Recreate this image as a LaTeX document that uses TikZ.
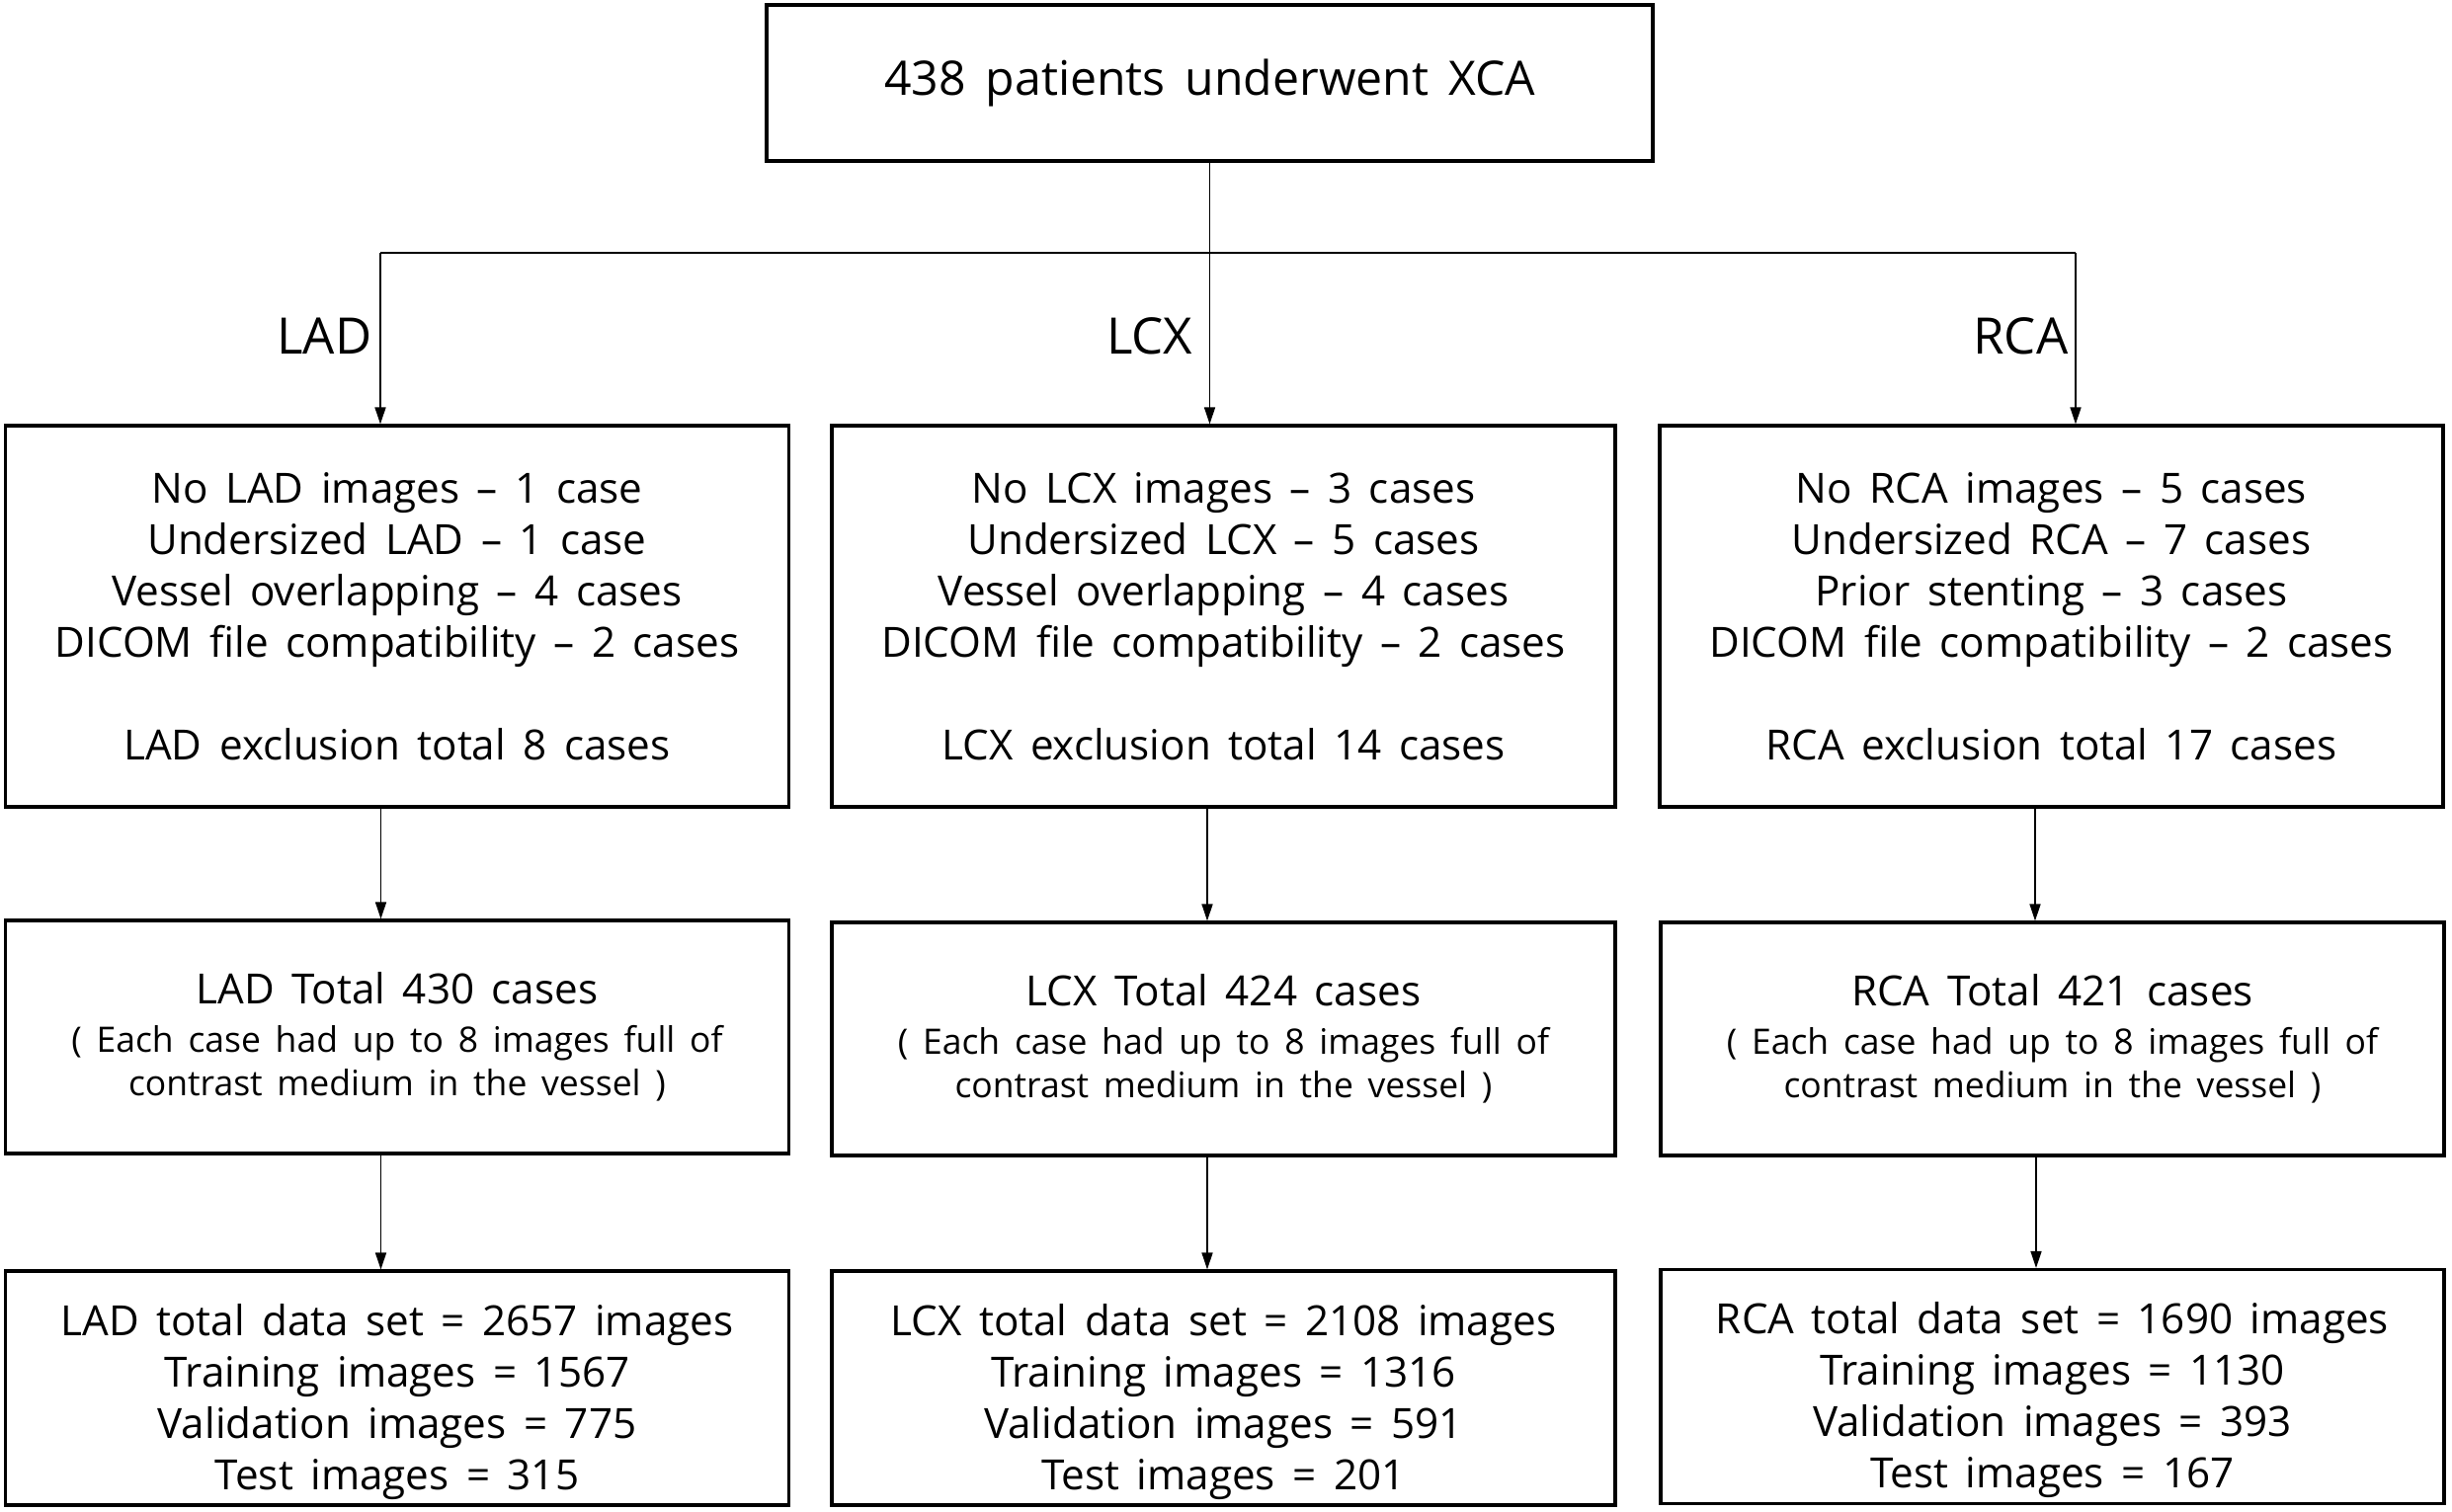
\documentclass[tikz,border=0pt]{standalone}
\usepackage{fontspec}
\setmainfont{Open Sans}[WordSpace=1.6]
\usetikzlibrary{arrows.meta,calc}
\newcommand{\bodyfont}{\fontsize{12}{14.8}\selectfont}
\newcommand{\subfont}{\fontsize{10.1}{12.5}\selectfont}
\newcommand{\bigfont}{\fontsize{13.7}{16}\selectfont}
\newcommand{\labfont}{\fontsize{14.5}{16}\selectfont}
\begin{document}
\begin{tikzpicture}[
  box/.style={draw, line width=0.9pt, minimum width=7.93cm, inner sep=0pt, align=center, font=\bodyfont},
  tall/.style={box, minimum height=3.86cm},
  mid/.style={box, minimum height=2.36cm},
  txt/.style={inner sep=0pt, align=center, font=\bodyfont},
  conn/.style={line width=0.45pt, -{Triangle[length=0.17cm,width=0.11cm]}},
  plain/.style={line width=0.45pt},
  branch/.style={font=\labfont, anchor=east, inner sep=0pt}
]
\useasboundingbox (0,0) rectangle (24.82,-15.31);
% top
\node[draw, line width=0.9pt, minimum width=8.97cm, minimum height=1.58cm, inner sep=0pt, font=\bigfont] (top) at (12.245,-0.84) {438 patients underwent XCA};
% row 1
\node[tall] (lad1) at (4.02,-6.24) {No LAD images – 1 case\\Undersized LAD – 1 case\\Vessel overlapping – 4 cases\\DICOM file compatibility – 2 cases\\[14.8pt]LAD exclusion total 8 cases};
\node[tall] (lcx1) at (12.385,-6.24) {No LCX images – 3 cases\\Undersized LCX – 5 cases\\Vessel overlapping – 4 cases\\DICOM file compatibility – 2 cases\\[14.8pt]LCX exclusion total 14 cases};
\node[tall] (rca1) at (20.765,-6.24) {No RCA images – 5 cases\\Undersized RCA – 7 cases\\Prior stenting – 3 cases\\DICOM file compatibility – 2 cases\\[14.8pt]RCA exclusion total 17 cases};
% row 2
\node[mid] (lad2) at (4.02,-10.50) {LAD Total 430 cases\\[-0.8pt]{\subfont ( Each case had up to 8 images full of}\\[-2.3pt]{\subfont contrast medium in the vessel )}};
\node[mid] (lcx2) at (12.385,-10.52) {LCX Total 424 cases\\[-0.8pt]{\subfont ( Each case had up to 8 images full of}\\[-2.3pt]{\subfont contrast medium in the vessel )}};
\node[mid] (rca2) at (20.775,-10.52) {RCA Total 421 cases\\[-0.8pt]{\subfont ( Each case had up to 8 images full of}\\[-2.3pt]{\subfont contrast medium in the vessel )}};
% row 3
\node[mid, minimum height=2.37cm] (lad3) at (4.02,-14.055) {};
\node[mid, minimum height=2.37cm] (lcx3) at (12.385,-14.055) {};
\node[mid, minimum height=2.37cm] (rca3) at (20.775,-14.04) {};
\node[txt] (lad3t) at ($(lad3.center)+(0,-0.14)$) {LAD total data set = 2657 images\\Training images = 1567\\Validation images = 775\\Test images = 315};
\node[txt] (lcx3t) at ($(lcx3.center)+(0,-0.14)$) {LCX total data set = 2108 images\\Training images = 1316\\Validation images = 591\\Test images = 201};
\node[txt] (rca3t) at ($(rca3.center)+(0,-0.14)$) {RCA total data set = 1690 images\\Training images = 1130\\Validation images = 393\\Test images = 167};
% branching
\coordinate (jL) at (3.85,-2.56);
\coordinate (jR) at (21.01,-2.56);
\draw[plain] (jL) -- (jR);
\draw[conn] (jL) -- (jL |- lad1.north);
\draw[conn] (top.south) -- (top.south |- lcx1.north);
\draw[conn] (jR) -- (jR |- rca1.north);
\node[branch] (tlad) at (3.77,-3.40) {LAD};
\node[branch] (tlcx) at (12.08,-3.40) {LCX};
\node[branch] (trca) at (20.94,-3.40) {RCA};
% vertical arrows
\foreach \a/\b in {lad1/lad2, lcx1/lcx2, rca1/rca2, lad2/lad3, lcx2/lcx3, rca2/rca3}{
  \draw[conn] ([xshift=-0.165cm]\a.south) -- ([xshift=-0.165cm]\a.south |- \b.north);
}
\end{tikzpicture}
\end{document}
